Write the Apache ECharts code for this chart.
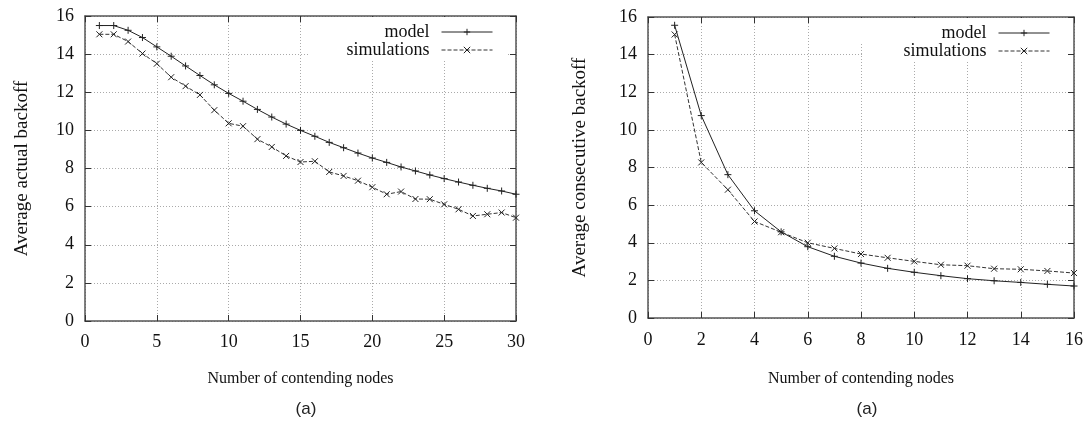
<!DOCTYPE html>
<html>
<head>
<meta charset="utf-8">
<script src="https://cdn.jsdelivr.net/npm/echarts@6/dist/echarts.min.js"></script>
<style>
  html, body { margin: 0; padding: 0; background: #fff; }
  #main { width: 1090px; height: 425px; }
</style>
</head>
<body>
<div id="main"></div>
<script>
// (a) left: average actual backoff
var nodesA = [1,2,3,4,5,6,7,8,9,10,11,12,13,14,15,16,17,18,19,20,21,22,23,24,25,26,27,28,29,30];
var modelA = [15.5,15.5,15.25,14.87,14.38,13.89,13.38,12.88,12.39,11.94,11.53,11.1,10.7,10.33,10.0,9.69,9.37,9.09,8.81,8.55,8.32,8.08,7.87,7.66,7.47,7.29,7.12,6.96,6.82,6.65];
var simA = [15.04,15.04,14.66,14.03,13.5,12.79,12.32,11.86,11.06,10.37,10.22,9.54,9.13,8.66,8.34,8.38,7.82,7.61,7.36,7.02,6.65,6.79,6.4,6.39,6.12,5.86,5.51,5.6,5.69,5.42];

// (a) right: average consecutive backoff
var nodesB = [1,2,3,4,5,6,7,8,9,10,11,12,13,14,15,16];
var modelB = [15.56,10.76,7.62,5.7,4.58,3.79,3.28,2.92,2.64,2.43,2.25,2.09,1.98,1.89,1.79,1.7];
var simB = [15.07,8.27,6.82,5.13,4.56,4.0,3.7,3.4,3.2,3.01,2.83,2.78,2.62,2.59,2.5,2.39];

var serif = 'Liberation Serif';
var plusSym = 'path://M5,0L5,10M0,5L10,5';
var crossSym = 'path://M0,0L10,10M10,0L0,10';

function pairs(xs, ys) {
  return xs.map(function (x, i) { return [x, ys[i]]; });
}

function xAx(grid, max, step, margin, gap) {
  return {
    type: 'value', gridIndex: grid, min: 0, max: max, interval: step,
    name: 'Number of contending nodes', nameLocation: 'middle', nameGap: gap,
    nameTextStyle: { fontFamily: serif, fontSize: 16, color: '#111' },
    axisLine: { onZero: false, lineStyle: { color: '#555', width: 1.5 } },
    axisTick: { inside: true, length: 6, lineStyle: { color: '#333' } },
    axisLabel: { fontFamily: serif, fontSize: 18, color: '#111', margin: margin },
    splitLine: { show: true, lineStyle: { color: '#aaa', type: [1, 2] } }
  };
}
function xTop(grid, max, step) {
  return {
    type: 'value', gridIndex: grid, min: 0, max: max, interval: step, position: 'top',
    axisLine: { onZero: false, lineStyle: { color: '#555', width: 1.5 } },
    axisTick: { inside: true, length: 6, lineStyle: { color: '#333' } },
    axisLabel: { show: false }, splitLine: { show: false }
  };
}
function yAx(grid, name, gap) {
  return {
    type: 'value', gridIndex: grid, min: 0, max: 16, interval: 2,
    name: name, nameLocation: 'middle', nameGap: gap,
    nameTextStyle: { fontFamily: serif, fontSize: 19, color: '#111' },
    axisLine: { show: true, onZero: false, lineStyle: { color: '#555', width: 1.5 } },
    axisTick: { show: true, inside: true, length: 6, lineStyle: { color: '#333' } },
    axisLabel: { fontFamily: serif, fontSize: 18, color: '#111', margin: 11 },
    splitLine: { show: true, lineStyle: { color: '#aaa', type: [1, 2] } }
  };
}
function yRight(grid) {
  return {
    type: 'value', gridIndex: grid, min: 0, max: 16, interval: 2, position: 'right',
    axisLine: { show: true, onZero: false, lineStyle: { color: '#555', width: 1.5 } },
    axisTick: { show: true, inside: true, length: 6, lineStyle: { color: '#333' } },
    axisLabel: { show: false }, splitLine: { show: false }
  };
}
function modelSeries(idx, data) {
  return {
    name: 'model', type: 'line', xAxisIndex: idx, yAxisIndex: idx,
    data: data, symbol: plusSym, symbolSize: 7, showSymbol: true,
    lineStyle: { color: '#222', width: 1 },
    itemStyle: { color: 'transparent', borderColor: '#222', borderWidth: 1 },
    emphasis: { disabled: true }, z: 3
  };
}
function simSeries(idx, data) {
  return {
    name: 'simulations', type: 'line', xAxisIndex: idx, yAxisIndex: idx,
    data: data, symbol: crossSym, symbolSize: 6, showSymbol: true,
    lineStyle: { color: '#333', width: 1, type: [4, 2] },
    itemStyle: { color: 'transparent', borderColor: '#222', borderWidth: 1 },
    emphasis: { disabled: true }, z: 3
  };
}
function key(name, right, top, pad) {
  return {
    data: [name], orient: 'vertical', align: 'right', right: right, top: top,
    padding: pad, backgroundColor: '#fff', itemWidth: 51, itemHeight: 8,
    selectedMode: false, z: 2,
    lineStyle: { width: 1 },
    itemStyle: { borderWidth: 1 },
    textStyle: { fontFamily: serif, fontSize: 18, color: '#111', padding: [0, 7, 0, 0] }
  };
}

var chart = echarts.init(document.getElementById('main'), null, { renderer: 'canvas' });
var option = {
  animation: false,
  backgroundColor: '#fff',
  title: [
    { text: '(a)', left: 301, top: 396, textAlign: 'center',
      textStyle: { fontFamily: 'Liberation Sans', fontSize: 17, fontWeight: 'normal', color: '#222' } },
    { text: '(a)', left: 862, top: 396, textAlign: 'center',
      textStyle: { fontFamily: 'Liberation Sans', fontSize: 17, fontWeight: 'normal', color: '#222' } }
  ],
  legend: [
    key('model', 583, 17, [6, 14, 0, 79]),
    key('simulations', 583, 41, [0, 14, 0, 38]),
    key('model', 23, 18, [6, 17, 0, 82]),
    key('simulations', 23, 42, [0, 17, 0, 41])
  ],
  grid: [
    { left: 85, right: 574, top: 16, bottom: 104 },
    { left: 648, right: 16, top: 17, bottom: 107 }
  ],
  xAxis: [xAx(0, 30, 5, 12, 50), xAx(1, 16, 2, 13, 53), xTop(0, 30, 5), xTop(1, 16, 2)],
  yAxis: [
    yAx(0, 'Average actual backoff', 53),
    yAx(1, 'Average consecutive backoff', 58),
    yRight(0), yRight(1)
  ],
  series: [
    modelSeries(0, pairs(nodesA, modelA)),
    simSeries(0, pairs(nodesA, simA)),
    modelSeries(1, pairs(nodesB, modelB)),
    simSeries(1, pairs(nodesB, simB))
  ]
};
chart.setOption(option);
</script>
</body>
</html>
